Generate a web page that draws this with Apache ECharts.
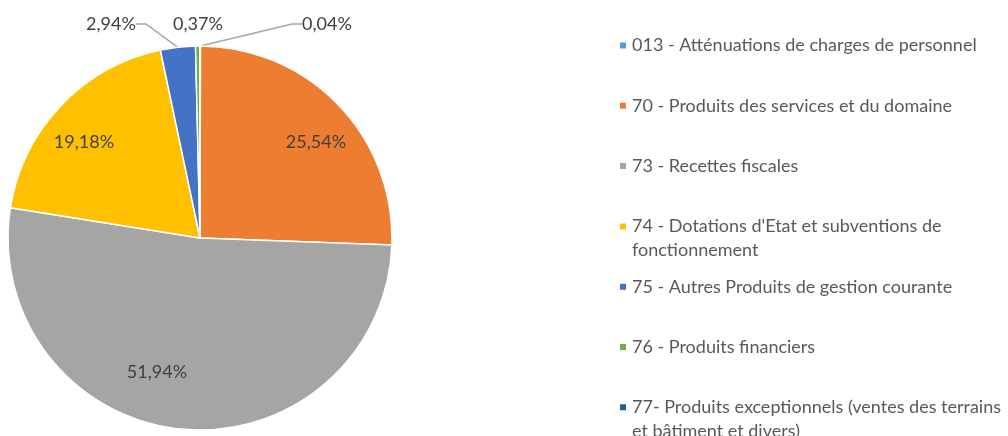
<!DOCTYPE html>
<html lang="fr">
<head>
    <meta charset="UTF-8">
    <title>Répartition des recettes</title>
    <script src="https://cdn.jsdelivr.net/npm/echarts@6/dist/echarts.min.js"></script>
</head>
<body style="margin:0;">
<div id="main" style="width:1008px;height:436px;"></div>
<script type="text/javascript">
    // categories (legend order = pie order, clockwise from 12 o'clock)
    const categories = [
        '013 - Atténuations de charges de personnel',
        '70 - Produits des services et du domaine',
        '73 - Recettes fiscales',
        "74 - Dotations d'Etat et subventions de fonctionnement",
        '75 - Autres Produits de gestion courante',
        '76 - Produits financiers',
        '77- Produits exceptionnels (ventes des terrains et bâtiment et divers)'
    ];
    // share of total, in %
    const shares = [0.04, 25.54, 51.94, 19.18, 2.94, 0.37, 0];
    const colors = ['#5B9BD5', '#ED7D31', '#A5A5A5', '#FFC000', '#4472C4', '#70AD47', '#255E91'];
    // legend text as wrapped in the original
    const legendText = [
        '013 - Atténuations de charges de personnel',
        '70 - Produits des services et du domaine',
        '73 - Recettes fiscales',
        "74 - Dotations d'Etat et subventions de\nfonctionnement",
        '75 - Autres Produits de gestion courante',
        '76 - Produits financiers',
        '77- Produits exceptionnels (ventes des terrains\net bâtiment et divers)'
    ];

    // where each percentage label sits (label placement only)
    const labelSpots = {
        0: [327, 24], 1: [316, 142], 2: [157, 372], 3: [84, 142], 4: [111, 24], 5: [198, 24]
    };
    const withLine = {0: true, 4: true};

    var myChart = echarts.init(document.getElementById('main'));

    const pieData = categories.map(function (name, i) {
        return {
            name: name,
            value: shares[i],
            itemStyle: {color: colors[i]},
            label: {show: shares[i] > 0},
            labelLine: {show: !!withLine[i]}
        };
    });

    // one legend block per item so spacing stays even like the original
    const legends = categories.map(function (name, i) {
        const twoLines = legendText[i].indexOf('\n') >= 0;
        const markerY = 45.5 + i * 60.3;
        return {
            orient: 'vertical',
            left: 618,
            top: twoLines ? markerY - 36 : markerY - 12,
            padding: 0,
            data: [name],
            icon: 'rect',
            itemWidth: 8,
            itemHeight: 8,
            selectedMode: false,
            formatter: function (n) {
                const t = legendText[categories.indexOf(n)];
                // empty first line keeps the marker level with the first text line
                return twoLines ? ' \n' + t : t;
            },
            textStyle: {
                fontFamily: 'Lato',
                fontSize: 18,
                color: '#595959',
                lineHeight: 24
            }
        };
    });

    const option = {
        backgroundColor: '#ffffff',
        animation: false,
        legend: legends,
        series: [{
            name: 'Recettes',
            type: 'pie',
            center: [200, 238],
            radius: 192,
            startAngle: 90,
            clockwise: true,
            data: pieData,
            itemStyle: {
                borderColor: '#ffffff',
                borderWidth: 1.5
            },
            label: {
                position: 'outside',
                overflow: 'none',
                fontFamily: 'Lato',
                fontSize: 18,
                color: '#404040',
                formatter: function (p) {
                    return p.value.toFixed(2).replace('.', ',') + '%';
                }
            },
            labelLine: {
                length: 10,
                length2: 10,
                lineStyle: {color: '#a6a6a6', width: 1.5}
            },
            labelLayout: function (p) {
                const s = labelSpots[p.dataIndex];
                if (!s) {
                    return {};
                }
                return {x: s[0], y: s[1], align: 'center', verticalAlign: 'middle'};
            }
        }]
    };

    myChart.setOption(option);
</script>
</body>
</html>
